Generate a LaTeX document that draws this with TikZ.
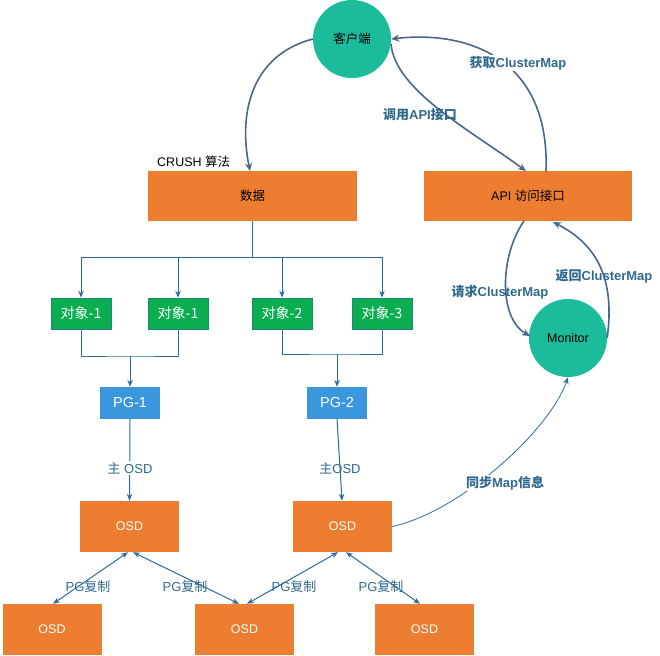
\documentclass[tikz,border=0pt]{standalone}
\usepackage{fontspec}
\setmainfont{Liberation Sans}
\newfontfamily\cjk{Noto Sans CJK SC}
\usetikzlibrary{arrows.meta}
\definecolor{orangebox}{HTML}{ED7D31}
\definecolor{tealc}{HTML}{1ABC9C}
\definecolor{greenbox}{HTML}{0AAE50}
\definecolor{pgblue}{HTML}{3A96DD}
\definecolor{curvec}{HTML}{4A6688}
\definecolor{linec}{HTML}{2E6A9E}
\definecolor{labelc}{HTML}{2F6A8E}
\tikzset{
  obox/.style={draw=none, fill=orangebox, inner sep=0pt, font=\fontsize{12.5}{14}\selectfont},
  circ/.style={circle, fill=tealc, inner sep=0pt, minimum size=78pt, font=\fontsize{12.5}{14}\selectfont},
  gbox/.style={fill=greenbox, draw=linec!60!greenbox, line width=0.6pt, inner sep=0pt, minimum width=60pt, minimum height=31pt, text=white, font=\fontsize{14}{16}\selectfont},
  pbox/.style={fill=pgblue, inner sep=0pt, minimum width=60pt, minimum height=32pt, text=white, font=\fontsize{14.5}{16}\selectfont},
  bigcurve/.style={draw=curvec, line width=1.6pt, -{Stealth[length=8pt,width=7pt]}},
  thin/.style={draw=linec, line width=1pt, -{Stealth[length=7pt,width=5.5pt]}},
  tline/.style={draw=linec, line width=1pt},
  both/.style={draw=linec, line width=1pt, {Stealth[length=7pt,width=5.5pt]}-{Stealth[length=7pt,width=5.5pt]}},
  blab/.style={text=labelc, font=\bfseries\fontsize{13}{15}\selectfont, inner sep=1pt},
  rlab/.style={text=labelc, font=\fontsize{13}{15}\selectfont, inner sep=1pt},
}
\begin{document}
\begin{tikzpicture}[x=1pt,y=-1pt]
\useasboundingbox (0,0) rectangle (660,655);
% main nodes
\node[circ] (client) at (352,39) {\cjk 客户端};
\node[obox, minimum width=209pt, minimum height=50pt] (data) at (252.5,196) {\cjk 数据};
\node[obox, minimum width=208pt, minimum height=50pt] (api) at (528,196) {API {\cjk 访问接口}};
\node[anchor=south west, inner sep=0pt, font=\fontsize{12.5}{14}\selectfont] (crush) at (157,168) {CRUSH {\cjk 算法}};
\node[circ] (mon) at (568,338) {Monitor};
% objects
\node[gbox] (o1) at (81,313.5) {\cjk 对象-1};
\node[gbox] (o2) at (178,313.5) {\cjk 对象-1};
\node[gbox] (o3) at (282,313.5) {\cjk 对象-2};
\node[gbox] (o4) at (382,313.5) {\cjk 对象-3};
\node[pbox] (pg1) at (130,403) {PG-1};
\node[pbox] (pg2) at (337,403) {PG-2};
% OSDs
\node[obox, text=white, minimum width=99pt, minimum height=51pt] (osd1) at (129.5,526.5) {OSD};
\node[obox, text=white, minimum width=99pt, minimum height=51pt] (osd2) at (342.5,526.5) {OSD};
\node[obox, text=white, minimum width=99pt, minimum height=51pt] (b1) at (52,629.5) {OSD};
\node[obox, text=white, minimum width=99pt, minimum height=51pt] (b2) at (244.5,629.5) {OSD};
\node[obox, text=white, minimum width=99pt, minimum height=51pt] (b3) at (424.5,629.5) {OSD};
% curves top
\draw[bigcurve] (client.west) .. controls (252,55) and (238,112) .. (250,171);
\draw[bigcurve] (391,44) .. controls (395,90) and (470,130) .. (526,171);
\draw[bigcurve] (546,171) .. controls (550,60) and (470,30) .. (client.east);
\node[blab, fill=white] (l1) at (518,63) {{\cjk 获取}ClusterMap};
\node[blab] (l2) at (420,115) {{\cjk 调用}API{\cjk 接口}};
% API <-> Monitor
\draw[bigcurve] (524,221) .. controls (500,255) and (498,318) .. (530,336);
\draw[bigcurve] (mon.east) .. controls (615,280) and (598,245) .. (553,222);
\node[blab] (l3) at (500,292) {{\cjk 请求}ClusterMap};
\node[blab] (l4) at (604,276) {{\cjk 返回}ClusterMap};
% tree
\coordinate (hub) at (252.5,257);
\coordinate (t1) at (o1.north |- hub);
\coordinate (t2) at (o2.north |- hub);
\coordinate (t3) at (o3.north |- hub);
\coordinate (t4) at (o4.north |- hub);
\draw[tline] (data.south) -- (hub);
\draw[tline] (t1) -- (t4);
\draw[thin] (t1) -- (o1.north);
\draw[thin] (t2) -- (o2.north);
\draw[thin] (t3) -- (o3.north);
\draw[thin] (t4) -- (o4.north);
\coordinate (m1) at (130,356);
\coordinate (m2) at (337,354);
\draw[tline] (o1.south) |- (m1) -| (o2.south);
\draw[tline] (o3.south) |- (m2) -| (o4.south);
\draw[thin] (m1) -- (pg1.north);
\draw[thin] (m2) -- (pg2.north);
% PG -> OSD
\draw[thin] (pg1.south) -- (osd1.north);
\draw[thin] (pg2.south) -- ([xshift=-0.5pt]osd2.north);
\node[rlab, fill=white] (l5) at (130,468) {{\cjk 主} OSD};
\node[rlab] (l6) at (340,468) {{\cjk 主}OSD};
% replication
\draw[both] ([xshift=-1.5pt]osd1.south) -- ([xshift=1pt]b1.north);
\draw[both] ([xshift=3.5pt]osd1.south) -- ([xshift=-5.5pt]b2.north);
\draw[both] ([xshift=-4.5pt]osd2.south) -- ([xshift=2.5pt]b2.north);
\draw[both] ([xshift=3.5pt]osd2.south) -- ([xshift=-4.5pt]b3.north);
\node[rlab] (r1) at (88,587) {PG{\cjk 复制}};
\node[rlab] (r2) at (185,587) {PG{\cjk 复制}};
\node[rlab] (r3) at (294,587) {PG{\cjk 复制}};
\node[rlab] (r4) at (381,587) {PG{\cjk 复制}};
% sync
\draw[draw=linec, line width=0.8pt, -{Stealth[length=7pt,width=5.5pt]}] (osd2.east) .. controls (460,512) and (550,430) .. (mon.south);
\node[blab, fill=white] (l7) at (505,483) {{\cjk 同步}Map{\cjk 信息}};
\end{tikzpicture}
\end{document}
